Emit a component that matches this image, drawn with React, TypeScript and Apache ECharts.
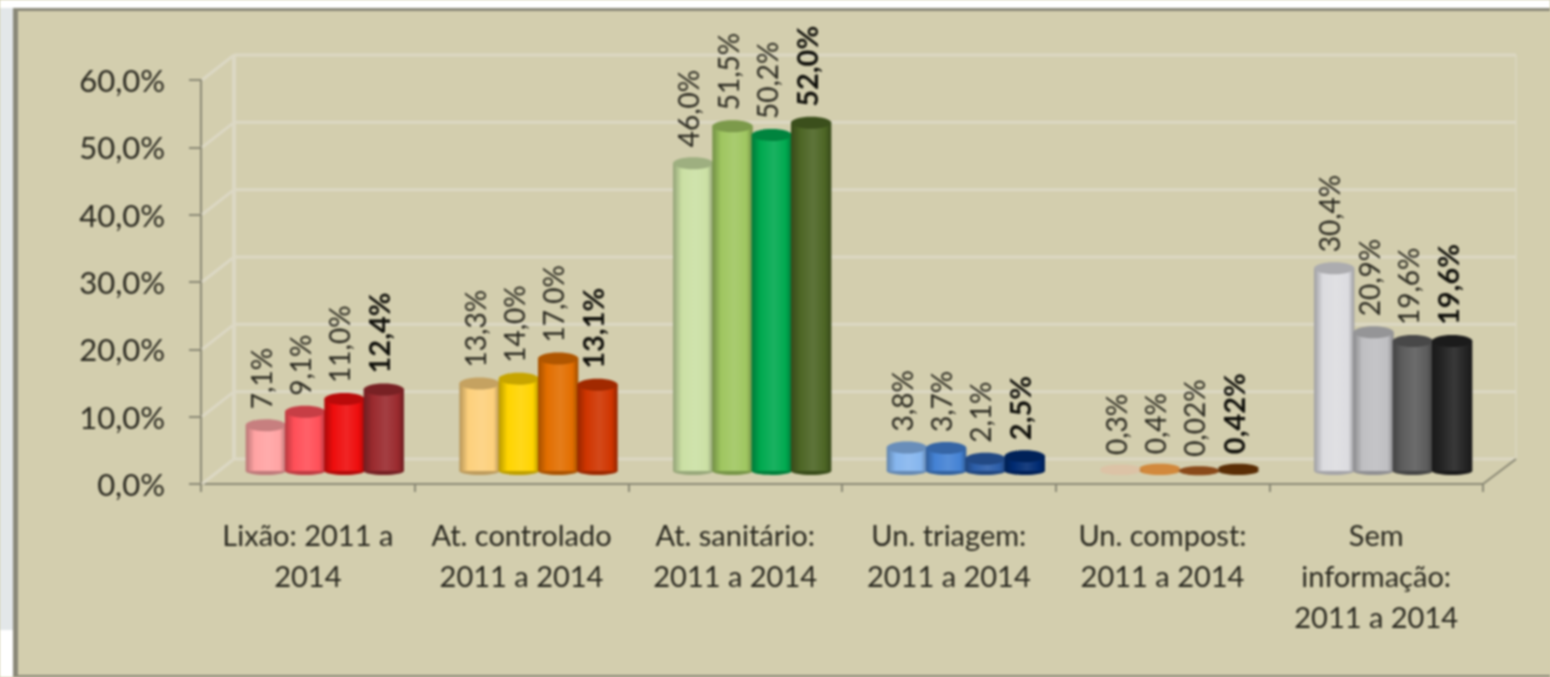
import React, { useEffect, useRef } from "react";
import * as echarts from "echarts";

const categories = [
  "Lixão: 2011 a\n2014",
  "At. controlado\n2011 a 2014",
  "At. sanitário:\n2011 a 2014",
  "Un. triagem:\n2011 a 2014",
  "Un. compost:\n2011 a 2014",
  "Sem\ninformação:\n2011 a 2014",
];
const yTicks = [0, 10, 20, 30, 40, 50, 60];
const values2011 = [7.1, 13.3, 46.0, 3.8, 0.3, 30.4];
const values2012 = [9.1, 14.0, 51.5, 3.7, 0.4, 20.9];
const values2013 = [11.0, 17.0, 50.2, 2.1, 0.02, 19.6];
const values2014 = [12.4, 13.1, 52.0, 2.5, 0.42, 19.6];
const labels2011 = ["7,1%", "13,3%", "46,0%", "3,8%", "0,3%", "30,4%"];
const labels2012 = ["9,1%", "14,0%", "51,5%", "3,7%", "0,4%", "20,9%"];
const labels2013 = ["11,0%", "17,0%", "50,2%", "2,1%", "0,02%", "19,6%"];
const labels2014 = ["12,4%", "13,1%", "52,0%", "2,5%", "0,42%", "19,6%"];
const colors2011 = ["#ffa3a3", "#fdd07c", "#cbe0a4", "#86b6ee", "#dcc3a6", "#dcdce0"];
const colors2012 = ["#ff4f58", "#ffd400", "#9fc660", "#4482d4", "#d2893c", "#bfbfc2"];
const colors2013 = ["#ee0d0d", "#e26e00", "#00a94f", "#2c5ea9", "#8a4a1a", "#5c5c5c"];
const colors2014 = ["#9a2a2e", "#cf3500", "#4c6524", "#002b72", "#5a2e05", "#232323"];

const FONT = "Lato";
const TEXT = "#29281f";
const AXIS = "#8b8975";
const WALL = "#dcd8c4";
const BG = "#d3ceae";
const DEPTH_X = 33;
const DEPTH_Y = -25;
const BAR_SHIFT_X = 17;
const BAR_SHIFT_Y = -11;
const BAR_RATIO = 0.184;

const shade = (hex: string, f: number) => {
  const n = parseInt(hex.slice(1), 16);
  const ch = (v: number) => {
    const r = f < 0 ? v * (1 + f) : v + (255 - v) * f;
    return Math.round(r).toString(16).padStart(2, "0");
  };
  return "#" + ch((n >> 16) & 255) + ch((n >> 8) & 255) + ch(n & 255);
};

const cylinderSeries = (
  name: string,
  slot: number,
  values: number[],
  labels: string[],
  colors: string[],
  bold: boolean,
) => ({
  type: "custom",
  name,
  z: 5 + slot,
  clip: false,
  data: values.map((v, i) => [i, v]),
  encode: { x: 0, y: 1 },
  renderItem: (params: any, api: any) => {
    const i = api.value(0);
    const val = api.value(1);
    const top = api.coord([i, val]);
    const base = api.coord([i, 0]);
    const bw = api.size([1, 0])[0] * BAR_RATIO;
    const cx = top[0] + BAR_SHIFT_X + (slot - 1.5) * bw;
    const yTop = top[1] + BAR_SHIFT_Y;
    const yBase = base[1] + BAR_SHIFT_Y;
    const rx = bw / 2 + 0.5;
    const c = colors[i];
    const flat = val < 1;
    return {
      type: "group",
      children: [
        {
          type: "ellipse",
          shape: { cx, cy: yBase - 2, rx, ry: 4 },
          style: { fill: shade(c, flat ? 0 : -0.25) },
        },
        {
          type: "rect",
          shape: { x: cx - rx, y: yTop, width: rx * 2, height: Math.max(0, yBase - 2 - yTop) },
          style: {
            fill: new echarts.graphic.LinearGradient(0, 0, 1, 0, [
              { offset: 0, color: shade(c, -0.28) },
              { offset: 0.22, color: c },
              { offset: 0.55, color: shade(c, 0.1) },
              { offset: 0.85, color: c },
              { offset: 1, color: shade(c, -0.3) },
            ]),
          },
        },
        {
          type: "ellipse",
          shape: { cx, cy: flat ? yTop - 2 : yTop, rx, ry: flat ? 4.5 : 6 },
          style: { fill: shade(c, flat ? 0 : -0.22) },
        },
        {
          type: "text",
          x: cx - 5,
          y: yTop - 16,
          rotation: Math.PI / 2,
          style: {
            text: labels[i],
            font: `${bold ? "bold " : ""}${bold ? 29 : 28}px ${FONT}`,
            fill: bold ? "#0f0f0a" : TEXT,
            align: "left",
            verticalAlign: "middle",
          },
        },
      ],
    };
  },
});

export default function App() {
  const ref = useRef<HTMLDivElement>(null);
  useEffect(() => {
    const chart = echarts.init(ref.current!, null, { renderer: "svg" });
    chart.setOption({
      animation: false,
      backgroundColor: "#ffffff",
      graphic: [
        { type: "rect", z: -11, shape: { x: 0, y: 8, width: 13, height: 622 }, style: { fill: "#e3e7e9" } },
        { type: "rect", z: -10, shape: { x: 13, y: 8, width: 1537, height: 669 }, style: { fill: "#8a8878" } },
        { type: "rect", z: -9, shape: { x: 18, y: 11, width: 1532, height: 664 }, style: { fill: BG } },
      ],
      grid: { left: 201, right: 67, top: 80, bottom: 193 },
      xAxis: {
        type: "category",
        data: categories,
        axisLine: { lineStyle: { color: AXIS, width: 2 } },
        axisTick: { show: true, alignWithLabel: false, length: 8, lineStyle: { color: AXIS, width: 2 } },
        axisLabel: {
          interval: 0,
          color: TEXT,
          fontFamily: FONT,
          fontSize: 29,
          lineHeight: 41,
          margin: 30,
        },
      },
      yAxis: {
        type: "value",
        min: 0,
        max: 60,
        interval: 10,
        axisLine: { show: true, lineStyle: { color: AXIS, width: 2 } },
        axisTick: { show: true, length: 12, lineStyle: { color: AXIS, width: 2 } },
        splitLine: { show: false },
        axisLabel: {
          color: TEXT,
          fontFamily: FONT,
          fontSize: 31,
          margin: 36,
          formatter: (v: number) => v.toFixed(1).replace(".", ",") + "%",
        },
      },
      series: [
        {
          type: "custom",
          name: "wall",
          z: 1,
          clip: false,
          silent: true,
          data: yTicks.map((v) => [0, v]),
          encode: { x: 0, y: 1 },
          renderItem: (params: any, api: any) => {
            const v = api.value(1);
            const p = api.coord([0, v]);
            const bw = api.size([1, 0])[0];
            const x0 = p[0] - bw / 2;
            const x1 = x0 + bw * categories.length;
            const y = p[1];
            const line = (a: number, b: number, c: number, d: number, color: string, w: number) => ({
              type: "line",
              shape: { x1: a, y1: b, x2: c, y2: d },
              style: { stroke: color, lineWidth: w },
            });
            const children: any[] = [
              line(x0 + 1, y, x0 + DEPTH_X, y + DEPTH_Y, WALL, 3),
              line(x0 + DEPTH_X, y + DEPTH_Y, x1 + DEPTH_X, y + DEPTH_Y, WALL, 3),
            ];
            if (v === 0) {
              const yT = api.coord([0, 60])[1];
              children.push(line(x0 + DEPTH_X, y + DEPTH_Y, x0 + DEPTH_X, yT + DEPTH_Y, WALL, 4));
              children.push(line(x1 + DEPTH_X, y + DEPTH_Y, x1 + DEPTH_X, yT + DEPTH_Y, "#d9d5bc", 2));
              children.push(line(x1, y, x1 + DEPTH_X, y + DEPTH_Y, AXIS, 2));
            }
            return { type: "group", children };
          },
        },
        cylinderSeries("2011", 0, values2011, labels2011, colors2011, false),
        cylinderSeries("2012", 1, values2012, labels2012, colors2012, false),
        cylinderSeries("2013", 2, values2013, labels2013, colors2013, false),
        cylinderSeries("2014", 3, values2014, labels2014, colors2014, true),
      ],
    });
    return () => chart.dispose();
  }, []);
  return (
    <div style={{ position: "fixed", left: 0, top: 0, width: 1550, height: 677, overflow: "hidden", background: BG }}>
      <div ref={ref} style={{ width: 1550, height: 677, filter: "blur(0.9px)" }} />
    </div>
  );
}
